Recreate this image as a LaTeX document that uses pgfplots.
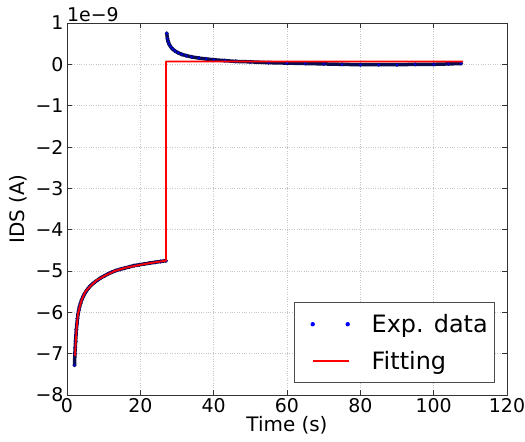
\documentclass[border=0pt]{standalone}
\usepackage{pgfplots}
\pgfplotsset{compat=1.18}
\usepackage{fontspec}
\setmainfont{DejaVu Sans}
\definecolor{navydot}{RGB}{12,12,80}
\begin{document}
\begin{tikzpicture}
\begin{axis}[
  scale only axis,
  width=440bp, height=372bp,
  clip mode=individual,
  xmin=0, xmax=120, ymin=-8, ymax=1,
  xtick={0,20,40,60,80,100,120},
  ytick={-8,-7,-6,-5,-4,-3,-2,-1,0,1},
  yticklabels={−8,−7,−6,−5,−4,−3,−2,−1,0,1},
  /pgf/number format/assume math mode=true,
  tick label style={font=\fontsize{19}{20}\selectfont},
  label style={font=\fontsize{20}{24}\selectfont},
  xlabel={Time (s)}, ylabel={IDS (A)},
  xlabel style={yshift=3bp},
  ylabel style={yshift=2bp},
  grid=major,
  major grid style={dotted, gray!45, line width=0.6bp},
  axis line style={line width=0.8bp, black!80},
  major tick length=5bp,
  tick style={black!80, line width=0.6bp},
  legend style={at={(0.973,0.032)}, anchor=south east, draw=black!70,
    line width=0.8bp, font=\fontsize{24}{26}\selectfont,
    inner xsep=5bp, inner ysep=10bp, row sep=13bp, cells={anchor=west}},
  legend cell align=left,
]
\addplot[navydot, line width=3.5bp, line join=round, mark=*, mark size=1.8bp,
  mark options={fill=blue, draw=navydot, line width=0.5bp},
  legend image code/.code={
    \fill[blue, draw=none] (4bp,0bp) circle (2.2bp);
    \fill[blue, draw=none] (39bp,0bp) circle (2.2bp);
    \path[draw=none] (-9bp,0bp) -- (61bp,0bp);}]
coordinates {
(2.05,-7.28)(2.15,-7.0)(2.25,-6.85)(2.35,-6.7)(2.45,-6.55)(2.55,-6.42)
(2.7,-6.28)(2.85,-6.15)(3.0,-6.05)(3.2,-5.95)(3.4,-5.87)(3.7,-5.78)
(4.0,-5.7)(4.4,-5.62)(4.8,-5.55)(5.3,-5.48)(5.8,-5.42)(6.4,-5.36)
(7.0,-5.31)(7.7,-5.26)(8.5,-5.21)(9.3,-5.16)(10.2,-5.12)(11.2,-5.07)
(12.2,-5.03)(13.3,-4.99)(14.5,-4.96)(15.7,-4.93)(17.0,-4.9)(18.3,-4.87)
(19.7,-4.85)(21.1,-4.83)(22.5,-4.81)(24.0,-4.79)(25.5,-4.77)(27.0,-4.75)
};
\addlegendentry{Exp. data}
\addplot[navydot, line width=3.5bp, line join=round, mark=*, mark size=1.8bp,
  mark options={fill=blue, draw=navydot, line width=0.5bp}, forget plot]
coordinates {
(27.2,0.75)(27.4,0.62)(27.6,0.55)(27.9,0.48)(28.3,0.42)(28.8,0.37)
(29.5,0.32)(30.3,0.28)(31.3,0.24)(32.5,0.21)(34,0.18)(36,0.15)
(38,0.13)(40,0.11)(43,0.09)(46,0.07)(50,0.06)(55,0.04)(60,0.03)
(65,0.02)(70,0.01)(75,0.0)(80,-0.01)(85,-0.01)(90,-0.01)(95,0.0)
(100,0.0)(104,0.01)(107.5,0.02)
};
\addplot[red, line width=1.8bp, line join=round,
  legend image code/.code={
    \draw[red, line width=1.8bp] (4bp,0bp) -- (40bp,0bp);
    \path[draw=none] (-9bp,0bp) -- (61bp,0bp);}]
coordinates {
(2.2,-7.05)(2.4,-6.7)(2.6,-6.42)(2.8,-6.2)(3.0,-6.05)(3.5,-5.85)
(4,-5.7)(5,-5.5)(6,-5.4)(8,-5.23)(10,-5.13)(13,-5.0)(16,-4.92)
(20,-4.85)(24,-4.79)(27,-4.75)(27,0.07)(108,0.07)
};
\addlegendentry{Fitting}
\node[anchor=south west, inner sep=0pt, yshift=1bp, font=\fontsize{19}{20}\selectfont]
  at (rel axis cs:0,1) {1e−9};
\end{axis}
\pgfresetboundingbox
\path (current axis.south west)+(-67bp,-47bp) coordinate (bl);
\path (current axis.north east)+(18bp,23bp) coordinate (tr);
\path[use as bounding box] (bl) rectangle (tr);
\end{tikzpicture}
\end{document}
